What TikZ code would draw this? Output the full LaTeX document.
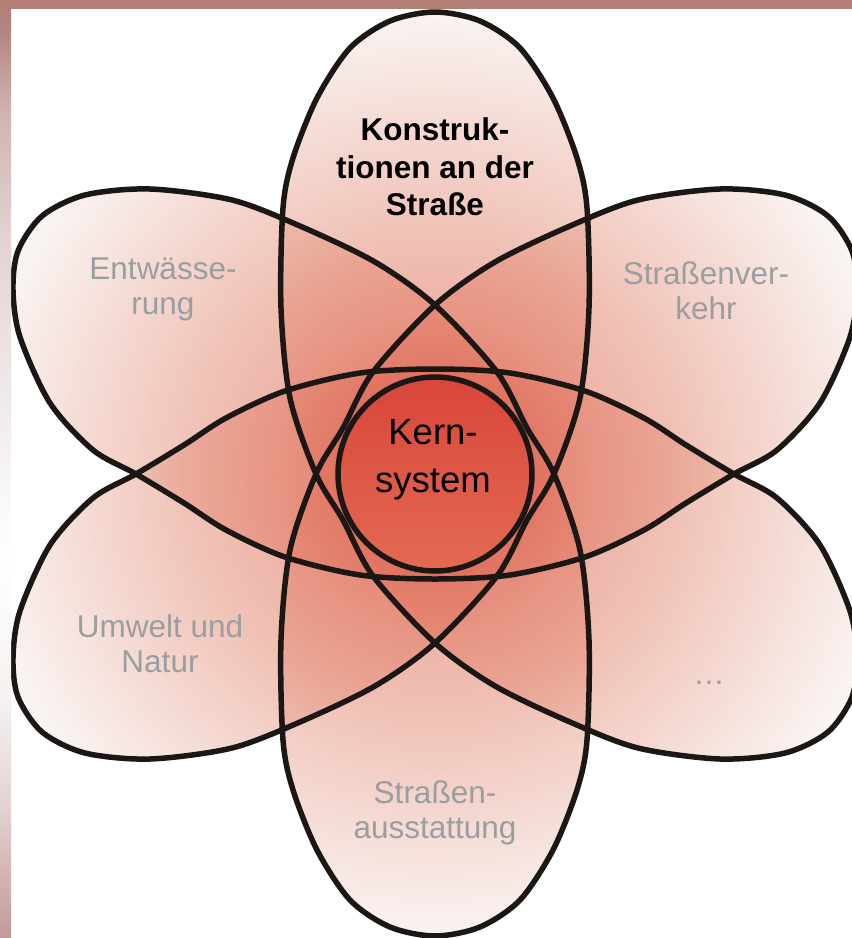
\documentclass[tikz,border=0pt]{standalone}
\usepackage{fontspec}
\setmainfont{Liberation Sans}
\definecolor{barcol}{HTML}{B27E76}
\definecolor{bartop}{HTML}{B58480}
\definecolor{barmid}{HTML}{D0B5B2}
\definecolor{barlow}{HTML}{E4D5D4}
\definecolor{barpale}{HTML}{F5F1F1}
\definecolor{barbot}{HTML}{C29A98}
\definecolor{inkcol}{HTML}{1B1715}
\definecolor{labelgray}{HTML}{9A9EA1}
\definecolor{petalA}{HTML}{DE5440}
\definecolor{petalB}{HTML}{E69682}
\definecolor{petalC}{HTML}{F7F0EE}
\definecolor{coretop}{HTML}{D8463A}
\definecolor{corebot}{HTML}{E36A53}
\pgfdeclareradialshading{petal}{\pgfpoint{0bp}{0bp}}{color(0bp)=(petalA); color(12.5bp)=(petalB); color(25bp)=(petalC); color(50bp)=(petalC)}
\pgfdeclareverticalshading{sidebar}{100bp}{color(0bp)=(barbot); color(25bp)=(barbot); color(32.4bp)=(barlow); color(37.7bp)=(barpale); color(45.2bp)=(white); color(51bp)=(barpale); color(61.7bp)=(barlow); color(68.9bp)=(barmid); color(73.4bp)=(bartop); color(75bp)=(barcol); color(100bp)=(barcol)}
\tikzset{every picture/.style={line width=0.75pt},
  outline/.style={draw=inkcol,line width=5.5pt,line join=round},
  petalfill/.style={shading=petal,fill opacity=.6},
  lbl/.style={text=labelgray,align=center,inner sep=0pt,font=\fontsize{31.5}{35}\selectfont},
  trefoil/.style={insert path={plot[smooth cycle] coordinates {
    (435,305) (375,262) (300,226) (232,200) (150,189) (85,195) (42,216) (18,251) (13,290) (20,337) (50,403) (93,450)
    (136,474) (184,503) (226,530) (285,557) (360,575) (435,579) (510,575) (585,557) (644,530) (686,503) (734,474)
    (777,450) (820,403) (850,337) (857,290) (852,251) (828,216) (785,195) (720,189) (638,200) (570,226) (495,262)
    (435,305) (373,372) (343,428) (316,474) (290,550) (281,640) (283,740) (293,790) (317,850) (350,900) (390,927)
    (435,936) (480,927) (520,900) (553,850) (577,790) (587,740) (589,640) (580,550) (554,474) (527,428) (497,372)}}}}
\begin{document}
\begin{tikzpicture}[x=1pt,y=-1pt]
    \useasboundingbox (0,0) rectangle (852,938);
    \fill[white] (0,0) rectangle (852,938);
    \foreach \flip in {1,-1} {
      \begin{scope}[shift={(0,474-474*\flip)},yscale=\flip]
        \clip[trefoil];
        \shade[petalfill] (435,474) circle (470);
        \begin{scope}[even odd rule]
          \clip[trefoil] (-20,-20) rectangle (880,960);
          \shade[petalfill] (435,474) circle (470);
        \end{scope}
      \end{scope}
    }
    \draw[outline,trefoil];
    \draw[outline,shift={(0,948)},yscale=-1,trefoil];
    \shade[top color=coretop,bottom color=corebot] (435,474) circle (97);
    \draw[outline] (435,474) circle (97);
    \node[inner sep=0pt,align=center,font=\bfseries\fontsize{31.5}{37.5}\selectfont] (konstr) at (435,167) {Konstruk-\\tionen an der\\Straße};
    \node[inner sep=0pt,align=center,font=\fontsize{36.5}{48}\selectfont] (kern) at (433,460) {Kern-\\system};
    \node[lbl] (entw) at (163,289) {Entwässe-\\rung};
    \node[lbl] (verkehr) at (706,291) {Straßenver-\\kehr};
    \node[lbl] (umwelt) at (160,644) {Umwelt und\\Natur};
    \node[lbl] (ausst) at (435,813) {Straßen-\\ausstattung};
    \node[lbl,anchor=base] (etc) at (709,684) {…};
    \shade[shading=sidebar] (0,0) rectangle (11,938);
    \fill[barcol] (0,0) rectangle (852,9);
\end{tikzpicture}
\end{document}
